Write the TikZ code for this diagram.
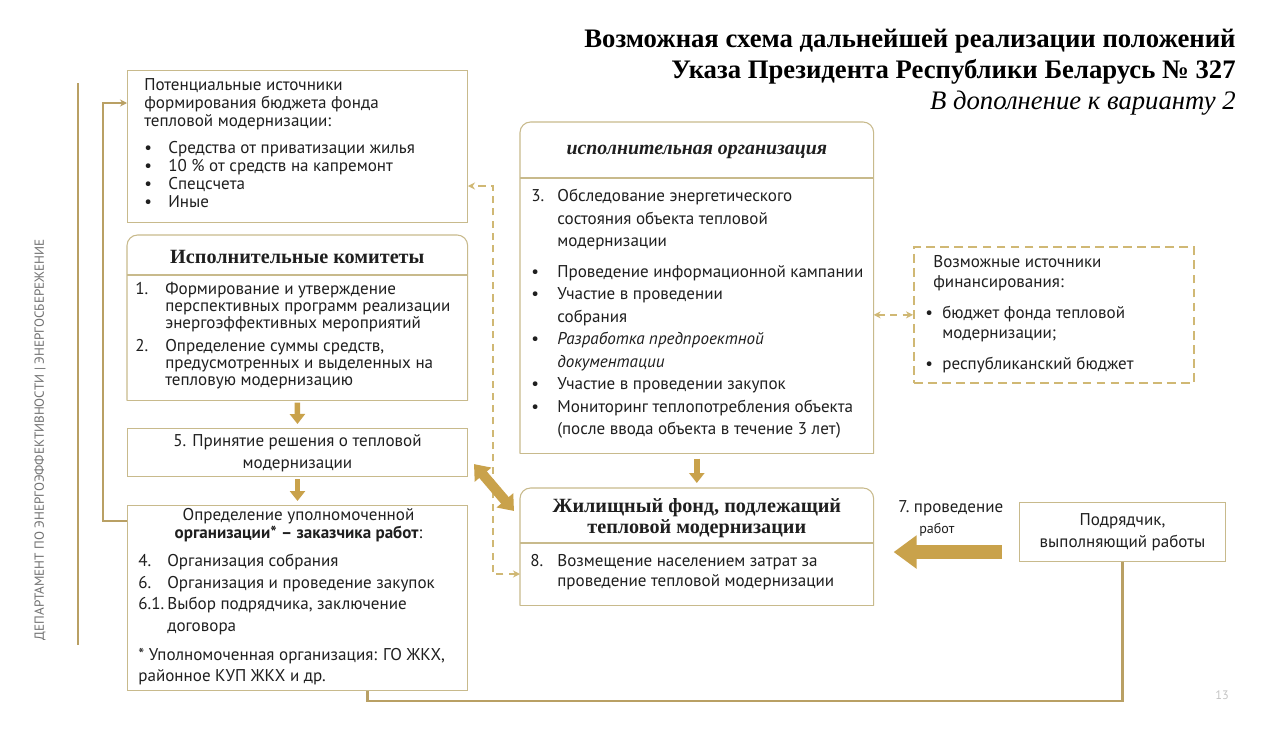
\documentclass[tikz,border=0pt]{standalone}
\usepackage{fontspec}
\setmainfont{PT Sans}
\newfontfamily\titlefont{Liberation Serif}
\usetikzlibrary{arrows.meta,positioning,calc}
\usepackage{xcolor}
\definecolor{Ink}{HTML}{1F1F1F}
\definecolor{Gold}{HTML}{C9A24B}
\definecolor{SoftGold}{HTML}{D0B874}
\definecolor{Line}{HTML}{C8BA8C}
\definecolor{Rule}{HTML}{B9A064}
\definecolor{Muted}{HTML}{707070}
\definecolor{PageNo}{HTML}{C4C4C4}
\newlength{\itmw}\setlength{\itmw}{0.48cm}
\newcommand{\bull}[1][\itmw]{\makebox[#1][l]{\textbullet}}
\newcommand{\numb}[2][\itmw]{\makebox[#1][l]{#2}}
\newcommand{\indt}[1][\itmw]{\hspace*{#1}}
\tikzset{
 panel/.style={inner sep=0pt, anchor=north west},
 box/.style={panel, draw=Line, line width=0.6pt},
 dashbox/.style={panel, draw=SoftGold, line width=1pt, dash pattern=on 5pt off 3pt},
 boxline/.style={draw=Line, line width=0.6pt},
 txt/.style={inner sep=0pt, anchor=north west, align=left, text=Ink, font=\fontsize{9.7pt}{0.36cm}\selectfont},
 ctxt/.style={txt, anchor=north, align=center},
 headtxt/.style={inner sep=0pt, text=Ink, align=center, font=\titlefont\bfseries\fontsize{11.5pt}{0.42cm}\selectfont},
 barline/.style={draw=Rule, line width=1.2pt},
 thinarrow/.style={-{Stealth[length=4pt,width=4pt]}, draw=Rule, line width=1pt},
 dasharrow/.style={{Stealth[length=4pt,width=4pt]}-{Stealth[length=4pt,width=4pt]}, draw=SoftGold, line width=0.9pt, dash pattern=on 4pt off 3pt},
 downarrow/.style={-{Triangle[width=0.3cm,length=0.2cm]}, draw=Gold, line width=0.11cm},
 bigarrow/.style={-{Triangle[width=0.64cm,length=0.46cm]}, draw=Gold, line width=0.28cm},
 twoarrow/.style={{Triangle[width=0.42cm,length=0.28cm]}-{Triangle[width=0.42cm,length=0.28cm]}, draw=Gold, line width=0.2cm}
}

\begin{document}
\begin{tikzpicture}[x=0.02cm,y=-0.02cm]
\useasboundingbox[fill=white] (0,0) rectangle (1276,744);

\node[anchor=north east, inner sep=0pt, align=right, text=black, font=\titlefont\fontsize{15.2pt}{0.62cm}\selectfont] (title) at (1236,29) {\textbf{Возможная схема дальнейшей реализации положений}\\ \textbf{Указа Президента Республики Беларусь № 327}\\ \textit{В дополнение к варианту 2}};

\node[rotate=90, inner sep=0pt, text=Muted, font=\fontsize{7.5pt}{9pt}\selectfont] (dept) at (40,440) {ДЕПАРТАМЕНТ ПО ЭНЕРГОЭФФЕКТИВНОСТИ | ЭНЕРГОСБЕРЕЖЕНИЕ};
\draw[barline, line width=1.6pt] (78,83) -- (78,645);

\node[box, minimum width=6.8cm, minimum height=3.04cm] (src) at (127,70) {};
\node[panel, minimum width=6.8cm, minimum height=3.3cm] (kom) at (127,235) {};
\node[box, minimum width=6.8cm, minimum height=0.96cm] (resh) at (127,428) {};
\node[box, minimum width=6.8cm, minimum height=3.7cm] (zak) at (127,505) {};
\node[panel, minimum width=7.06cm, minimum height=6.62cm] (isp) at (520,122) {};
\node[panel, minimum width=7.06cm, minimum height=2.34cm] (fond) at (520,488) {};
\node[dashbox, minimum width=5.6cm, minimum height=2.72cm] (fin) at (913,246) {};
\node[box, minimum width=4.12cm, minimum height=1.18cm] (podr) at (1019,502) {};

\foreach \b/\h in {kom/40,isp/56,fond/55}{
 \draw[boxline, rounded corners=6pt] (\b.south west) -- (\b.north west) -- (\b.north east) -- (\b.south east);
 \draw[boxline] (\b.south west) -- (\b.south east);
 \draw[boxline] ($(\b.north west)+(0,\h)$) -- ($(\b.north east)+(0,\h)$);
}

\node[txt] (srcT) at ($(src.north west)+(17,8)$) {Потенциальные источники\\ формирования бюджета фонда\\ тепловой модернизации:\\[0.18cm]
\bull Средства от приватизации жилья\\ \bull 10 \% от средств на капремонт\\ \bull Спецсчета\\ \bull Иные};

\node[headtxt] (komH) at ($(kom.north)+(0,22)$) {Исполнительные комитеты};
\node[txt, font=\fontsize{9.7pt}{0.34cm}\selectfont] (komT) at ($(kom.north west)+(8,47)$) {\numb[0.6cm]{1.}Формирование  и утверждение\\ \indt[0.6cm]перспективных программ реализации\\ \indt[0.6cm]энергоэффективных мероприятий\\[0.12cm]
\numb[0.6cm]{2.}Определение суммы средств,\\ \indt[0.6cm]предусмотренных и выделенных на\\ \indt[0.6cm]тепловую модернизацию};

\node[ctxt, font=\fontsize{9.7pt}{0.44cm}\selectfont] (reshT) at ($(resh.north)+(0,6)$) {5. Принятие решения о тепловой\\ модернизации};

\node[ctxt] (zakH) at ($(zak.north)+(1,3)$) {Определение уполномоченной\\ \textbf{организации* – заказчика работ}:};
\node[txt, font=\fontsize{9.7pt}{0.43cm}\selectfont] (zakT) at ($(zak.north west)+(11,49)$) {\numb[0.58cm]{4.}Организация собрания\\ \numb[0.58cm]{6.}Организация и проведение закупок\\ \numb[0.58cm]{6.1.}Выбор подрядчика, заключение\\ \indt[0.58cm]договора\\[0.15cm]
* Уполномоченная  организация: ГО ЖКХ,\\ районное КУП ЖКХ и др.};

\node[headtxt, font=\titlefont\bfseries\itshape\fontsize{11.3pt}{0.42cm}\selectfont] (ispH) at ($(isp.north)+(0,30)$) {исполнительная организация};
\node[txt, font=\fontsize{9.7pt}{0.45cm}\selectfont] (ispT) at ($(isp.north west)+(11,67)$) {\numb[0.52cm]{3.}Обследование энергетического\\ \indt[0.52cm]состояния объекта тепловой\\ \indt[0.52cm]модернизации\\[0.16cm]
\bull[0.52cm]Проведение информационной кампании\\ \bull[0.52cm]Участие в проведении\\ \indt[0.52cm]собрания\\ \bull[0.52cm]\textit{Разработка предпроектной}\\ \indt[0.52cm]\textit{документации}\\ \bull[0.52cm]Участие в проведении закупок\\ \bull[0.52cm]Мониторинг теплопотребления объекта\\ \indt[0.52cm](после ввода объекта в течение 3 лет)};

\node[headtxt, font=\titlefont\bfseries\fontsize{11.5pt}{0.42cm}\selectfont] (fondH) at ($(fond.north)+(0,30)$) {Жилищный фонд, подлежащий\\ тепловой модернизации};
\node[txt, font=\fontsize{9.7pt}{0.4cm}\selectfont] (fondT) at ($(fond.north west)+(10,66)$) {\numb[0.54cm]{8.}Возмещение населением затрат за\\ \indt[0.54cm]проведение тепловой модернизации};

\node[txt, font=\fontsize{9.7pt}{0.4cm}\selectfont] (finT) at ($(fin.north west)+(12,9)$) {\indt[0.16cm]Возможные источники\\ \indt[0.16cm]финансирования:\\[0.22cm]
\bull[0.34cm]бюджет фонда тепловой\\ \indt[0.34cm]модернизации;\\[0.22cm] \bull[0.34cm]республиканский бюджет};

\node[ctxt, font=\fontsize{9.7pt}{0.44cm}\selectfont] (podrT) at ($(podr.north)+(0,11)$) {Подрядчик,\\ выполняющий работы};

\node[txt, font=\fontsize{9.7pt}{0.42cm}\selectfont] (step7) at (898,500) {7.\ проведение\\ \indt[0.42cm]{\fontsize{8pt}{0.42cm}\selectfont работ}};

\node[inner sep=0pt, text=PageNo, font=\fontsize{7pt}{8pt}\selectfont] (page) at (1222,695) {13};

\draw[thinarrow] ($(zak.north west)+(0,16)$) -- ++(-24,0) |- ($(src.north west)+(0,33)$);
\draw[dasharrow] ($(fond.north west)+(0,86)$) -- ++(-27,0) |- ($(src.north east)+(0,116)$);
\draw[dasharrow] (fin.west -| isp.east) -- (fin.west);
\draw[downarrow, shorten <=0.04cm, shorten >=0.08cm] (kom.south) -- (resh.north);
\draw[downarrow, shorten <=0.04cm, shorten >=0.08cm] (resh.south) -- (zak.north);
\draw[downarrow, shorten <=0.1cm, shorten >=0.1cm] (isp.south) -- (fond.north);
\draw[twoarrow] ($(resh.south east)+(6,-13)$) -- ($(fond.north west)+(-6,23)$);
\coordinate (w7) at ($(podr.south west)+(-17,-10)$);
\draw[bigarrow, shorten >=0.4cm] (w7) -- (w7 -| fond.east);
\draw[barline] (podr.south) |- ($(zak.south)+(70,10)$) -- ($(zak.south)+(70,0)$);
\end{tikzpicture}
\end{document}
